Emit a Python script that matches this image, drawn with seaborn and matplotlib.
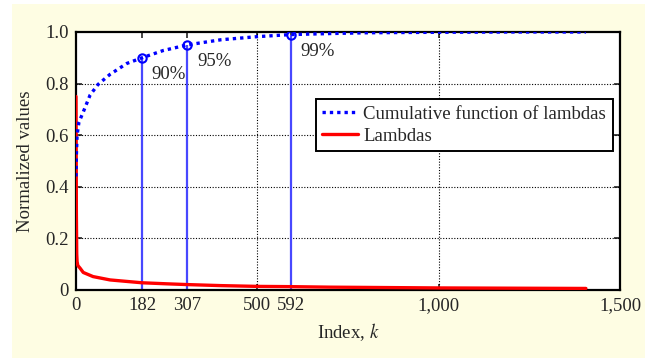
import numpy as np
import pandas as pd
import matplotlib
matplotlib.use("Agg")
import matplotlib.pyplot as plt
from matplotlib.patches import Rectangle
from matplotlib.ticker import FuncFormatter
import seaborn as sns

# values
k_cum = [0, 1, 3, 8, 20, 39, 61, 94, 140, 182, 240, 307, 400, 500, 592, 700, 800, 1000, 1200, 1406]
cum_values = [0.44, 0.52, 0.60, 0.65, 0.69, 0.756, 0.797, 0.836, 0.878, 0.90, 0.928, 0.95,
              0.97, 0.982, 0.99, 0.994, 0.997, 0.999, 1.0, 1.0]
k_lam = [0, 1, 2, 3, 5, 11, 20, 47, 94, 182, 250, 307, 400, 500, 592, 700, 800, 1000, 1200, 1406]
lam_values = [0.75, 0.30, 0.14, 0.11, 0.095, 0.085, 0.068, 0.052, 0.039, 0.028, 0.024, 0.021,
              0.017, 0.014, 0.013, 0.011, 0.010, 0.008, 0.007, 0.006]
mark_k = [182, 307, 592]
mark_cum = [0.90, 0.95, 0.99]
mark_labels = ["90%", "95%", "99%"]
xtick_vals = [0, 182, 307, 500, 592, 1000, 1500]
ytick_vals = [0, 0.2, 0.4, 0.6, 0.8, 1.0]

sns.set_style("ticks")
plt.rcParams["font.family"] = ["Liberation Serif", "DejaVu Serif"]
plt.rcParams["mathtext.fontset"] = "stix"
plt.rcParams["font.size"] = 13.5

cum_df = pd.DataFrame({"k": k_cum, "value": cum_values})
lam_df = pd.DataFrame({"k": k_lam, "value": lam_values})

fig = plt.figure(figsize=(6.57, 3.61), dpi=100, facecolor="white")
bg = Rectangle((12 / 657, 1 - 358 / 361), 633 / 657, 354 / 361,
               transform=fig.transFigure, facecolor="#FEFDE3",
               edgecolor="none", zorder=-10)
fig.patches.append(bg)
ax = fig.add_axes([76 / 657, 1 - 290 / 361, 544 / 657, 258 / 361])
ax.set_zorder(1)
ax.set_facecolor("white")

# grid only at the round values
for xv in [500, 1000]:
    ax.axvline(xv, color="black", ls=(0, (1, 1.5)), lw=0.8, zorder=1)
for yv in [0.2, 0.4, 0.6, 0.8]:
    ax.axhline(yv, color="black", ls=(0, (1, 1.5)), lw=0.8, zorder=1)

ax.vlines(mark_k, 0, mark_cum, color="#4848ff", lw=1.6, zorder=2)

sns.lineplot(data=cum_df, x="k", y="value", ax=ax, color="#0000ff", lw=2.4,
             linestyle=(0, (1, 1.2)), label="Cumulative function of lambdas", zorder=4)
sns.lineplot(data=lam_df, x="k", y="value", ax=ax, color="#ff0000", lw=2.4,
             label="Lambdas", zorder=3)

ax.plot(mark_k, mark_cum, "o", mfc="none", mec="#0000ff", ms=6, mew=1.5, zorder=5)
for xk, yc, lab in zip(mark_k, mark_cum, mark_labels):
    ax.annotate(lab, (xk, yc), xytext=(7, -12), textcoords="offset points",
                ha="left", va="center", fontsize=13.5)

ax.set_xlim(0, 1500)
ax.set_ylim(0, 1.0)
ax.set_xticks(xtick_vals)
ax.set_yticks(ytick_vals)
ax.xaxis.set_major_formatter(FuncFormatter(lambda v, p: f"{int(v):,}"))
ax.yaxis.set_major_formatter(FuncFormatter(lambda v, p: "0" if v == 0 else f"{v:.1f}"))
ax.tick_params(direction="in", length=4, width=1.2, top=True, right=True, pad=5)
for s in ax.spines.values():
    s.set_linewidth(1.6)
    s.set_color("black")

ax.set_xlabel("Index, $k$", labelpad=5)
ax.set_ylabel("Normalized values", labelpad=8)

leg = ax.legend(loc="upper right", bbox_to_anchor=(612.7 / 657, 1 - 99.3 / 361),
                bbox_transform=fig.transFigure, borderaxespad=0, fancybox=False,
                framealpha=1, edgecolor="black", handlelength=1.9, handletextpad=0.3,
                labelspacing=0.25, borderpad=0.35, fontsize=13.5)
leg.get_frame().set_linewidth(1.4)

fig.savefig("out.png", dpi=100, facecolor="white")
